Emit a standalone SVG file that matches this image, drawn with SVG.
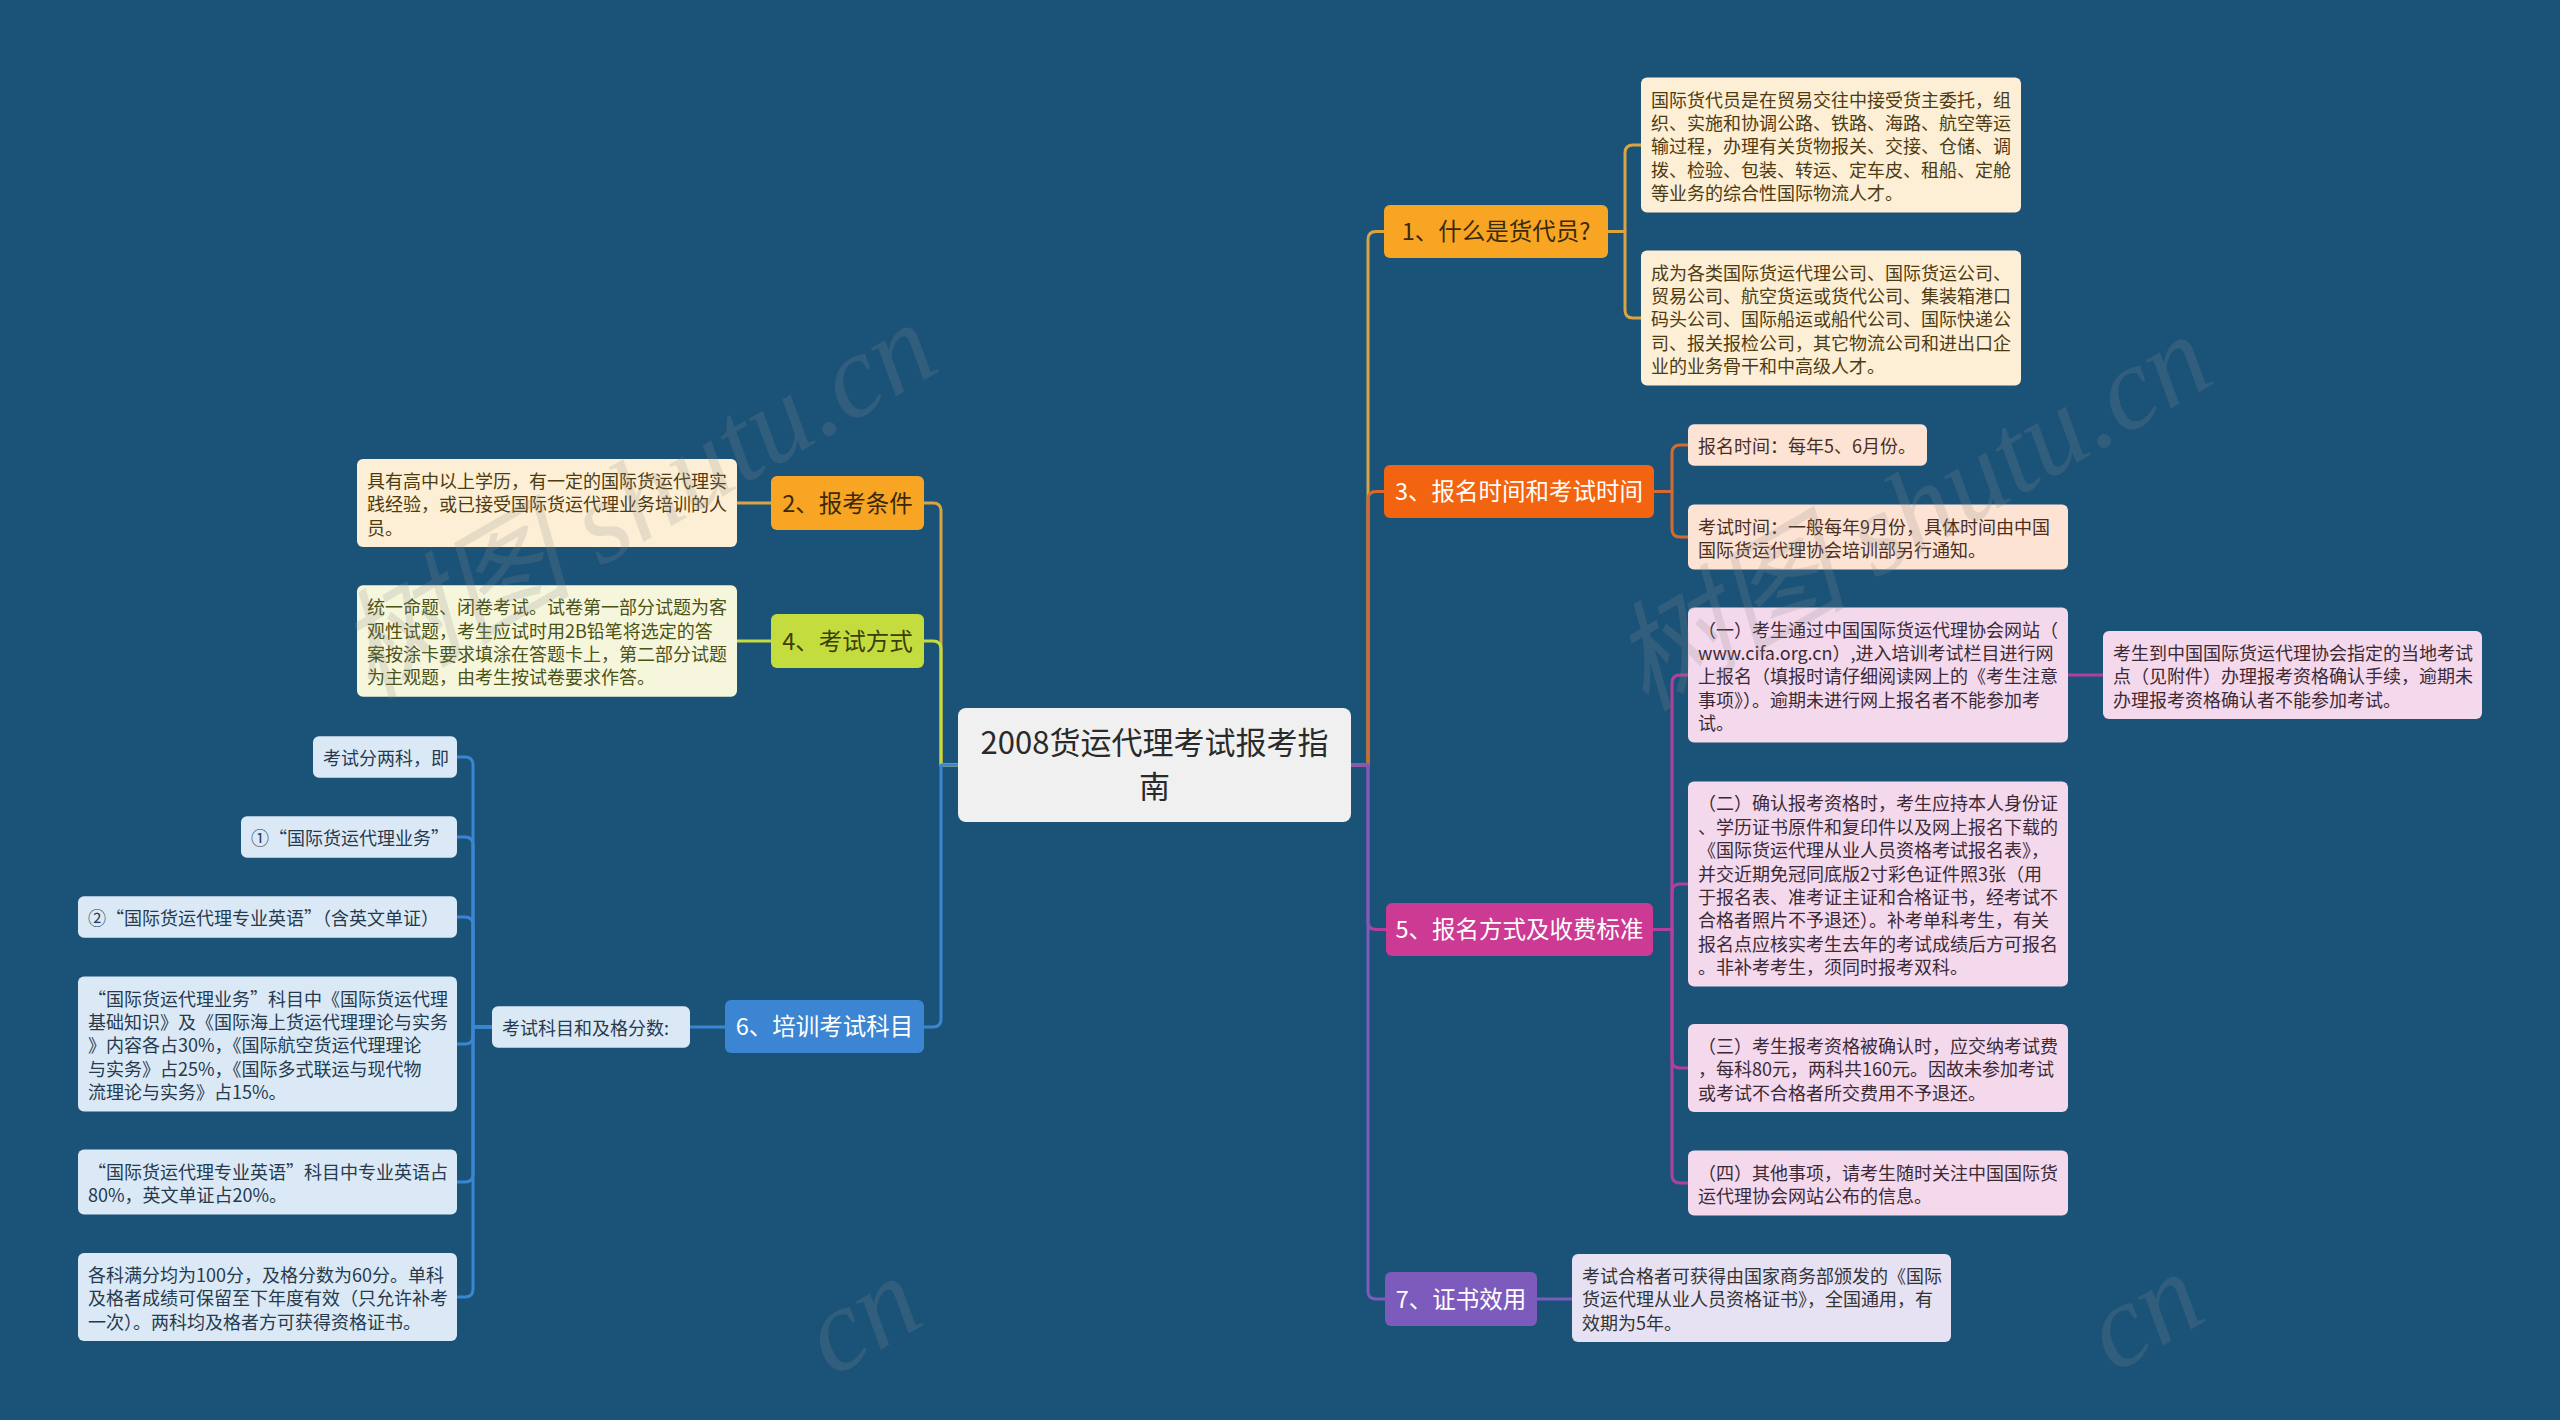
<svg xmlns="http://www.w3.org/2000/svg" width="2560" height="1420" viewBox="0 0 2560 1420">
<style>
text{font-family:"Noto Sans CJK SC","Liberation Sans",sans-serif;}
.leaf{font-size:18px;}
.main{font-size:23.5px;text-anchor:middle;}
.c{fill:none;stroke-width:3;stroke-linecap:round;stroke-linejoin:round;}
.wm{font-family:"Liberation Serif","Noto Sans CJK SC",serif;font-style:italic;font-size:118px;fill:#8a8a8a;fill-opacity:0.2;}
</style>
<rect x="0" y="0" width="2560" height="1420" fill="#1b5378"/>

<g id="connectors">
  <path class="c" stroke="#d8a444" d="M1351,765 H1368 V239.5 Q1368,231.5 1376,231.5 H1384"/>
  <path class="c" stroke="#d56a30" d="M1351,765 H1368 V499.5 Q1368,491.5 1376,491.5 H1384"/>
  <path class="c" stroke="#b2409a" d="M1351,765 H1368 V921.5 Q1368,929.5 1376,929.5 H1386"/>
  <path class="c" stroke="#7d5bbd" d="M1351,765 H1368 V1291 Q1368,1299 1376,1299 H1385"/>
  <path class="c" stroke="#d8a444" d="M1608,231.5 H1625 V153 Q1625,145 1633,145 H1641"/>
  <path class="c" stroke="#d8a444" d="M1608,231.5 H1625 V310 Q1625,318 1633,318 H1641"/>
  <path class="c" stroke="#d56a30" d="M1654,491.5 H1672 V453 Q1672,445 1680,445 H1688"/>
  <path class="c" stroke="#d56a30" d="M1654,491.5 H1672 V529 Q1672,537 1680,537 H1688"/>
  <path class="c" stroke="#b2409a" d="M1653,929.5 H1672 V683 Q1672,675 1680,675 H1688"/>
  <path class="c" stroke="#b2409a" d="M1653,929.5 H1672 V892 Q1672,884 1680,884 H1688"/>
  <path class="c" stroke="#b2409a" d="M1653,929.5 H1672 V1060 Q1672,1068 1680,1068 H1688"/>
  <path class="c" stroke="#b2409a" d="M1653,929.5 H1672 V1175 Q1672,1183 1680,1183 H1688"/>
  <path class="c" stroke="#b2409a" d="M2068,675 H2103"/>
  <path class="c" stroke="#7d5bbd" d="M1537,1299 H1572"/>
  <path class="c" stroke="#d8a444" d="M958,765 H941 V511 Q941,503 933,503 H924"/>
  <path class="c" stroke="#c5dc3e" d="M958,765 H941 V649 Q941,641 933,641 H924"/>
  <path class="c" stroke="#3b85d3" d="M958,765 H941 V1019 Q941,1027 933,1027 H924"/>
  <path class="c" stroke="#d8a444" d="M771,503 H737"/>
  <path class="c" stroke="#c5dc3e" d="M771,641 H737"/>
  <path class="c" stroke="#3b85d3" d="M725,1027 H690"/>
  <path class="c" stroke="#3b85d3" d="M492,1027 H473 V765 Q473,757 465,757 H457"/>
  <path class="c" stroke="#3b85d3" d="M492,1027 H473 V845 Q473,837 465,837 H457"/>
  <path class="c" stroke="#3b85d3" d="M492,1027 H473 V925 Q473,917 465,917 H457"/>
  <path class="c" stroke="#3b85d3" d="M492,1027 H473 V1036 Q473,1044 465,1044 H457"/>
  <path class="c" stroke="#3b85d3" d="M492,1027 H473 V1174 Q473,1182 465,1182 H457"/>
  <path class="c" stroke="#3b85d3" d="M492,1027 H473 V1289 Q473,1297 465,1297 H457"/>
</g>

<g id="center">
  <rect x="958" y="708" width="393" height="114" rx="8" fill="#f0f0f0"/>
  <text x="1154.5" y="754" font-size="31" text-anchor="middle" fill="#2a2a2a">2008货运代理考试报考指</text>
  <text x="1154.5" y="798" font-size="31" text-anchor="middle" fill="#2a2a2a">南</text>
</g>

<g id="n1">
  <rect x="1384" y="205" width="224" height="53" rx="6" fill="#f7a522"/>
  <text class="main" x="1496" y="240" fill="#3a2a0a">1、什么是货代员?</text>
</g>
<g id="n1a">
  <rect x="1641" y="77.5" width="380" height="135" rx="6" fill="#fdefd5"/>
  <text class="leaf" fill="#4d3b12">
    <tspan x="1651" y="106.5">国际货代员是在贸易交往中接受货主委托，组</tspan>
    <tspan x="1651" y="129.9">织、实施和协调公路、铁路、海路、航空等运</tspan>
    <tspan x="1651" y="153.3">输过程，办理有关货物报关、交接、仓储、调</tspan>
    <tspan x="1651" y="176.7">拨、检验、包装、转运、定车皮、租船、定舱</tspan>
    <tspan x="1651" y="200.1">等业务的综合性国际物流人才。</tspan>
  </text>
</g>
<g id="n1b">
  <rect x="1641" y="250.5" width="380" height="135" rx="6" fill="#fdefd5"/>
  <text class="leaf" fill="#4d3b12">
    <tspan x="1651" y="279.5">成为各类国际货运代理公司、国际货运公司、</tspan>
    <tspan x="1651" y="302.9">贸易公司、航空货运或货代公司、集装箱港口</tspan>
    <tspan x="1651" y="326.3">码头公司、国际船运或船代公司、国际快递公</tspan>
    <tspan x="1651" y="349.7">司、报关报检公司，其它物流公司和进出口企</tspan>
    <tspan x="1651" y="373.1">业的业务骨干和中高级人才。</tspan>
  </text>
</g>

<g id="n3">
  <rect x="1384" y="465" width="270" height="53" rx="6" fill="#f26410"/>
  <text class="main" x="1519" y="500" fill="#ffffff">3、报名时间和考试时间</text>
</g>
<g id="n3a">
  <rect x="1688" y="424.3" width="239" height="41.4" rx="6" fill="#fde3d3"/>
  <text class="leaf" x="1698" y="453.3" fill="#4a2e1e">报名时间：每年5、6月份。</text>
</g>
<g id="n3b">
  <rect x="1688" y="504.6" width="380" height="64.8" rx="6" fill="#fde3d3"/>
  <text class="leaf" fill="#4a2e1e">
    <tspan x="1698" y="533.6">考试时间：一般每年9月份，具体时间由中国</tspan>
    <tspan x="1698" y="557">国际货运代理协会培训部另行通知。</tspan>
  </text>
</g>

<g id="n5">
  <rect x="1386" y="903" width="267" height="53" rx="6" fill="#cc3a93"/>
  <text class="main" x="1519.5" y="938" fill="#ffffff">5、报名方式及收费标准</text>
</g>
<g id="n5a">
  <rect x="1688" y="607.5" width="380" height="135" rx="6" fill="#f4d9ec"/>
  <text class="leaf" fill="#3b2a36">
    <tspan x="1698" y="636.5">（一）考生通过中国国际货运代理协会网站（</tspan>
    <tspan x="1698" y="659.9">www.cifa.org.cn）,进入培训考试栏目进行网</tspan>
    <tspan x="1698" y="683.3">上报名（填报时请仔细阅读网上的《考生注意</tspan>
    <tspan x="1698" y="706.7">事项》）。逾期未进行网上报名者不能参加考</tspan>
    <tspan x="1698" y="730.1">试。</tspan>
  </text>
</g>
<g id="n5a1">
  <rect x="2103" y="630.9" width="379" height="88.2" rx="6" fill="#f4d9ec"/>
  <text class="leaf" fill="#3b2a36">
    <tspan x="2113" y="659.9">考生到中国国际货运代理协会指定的当地考试</tspan>
    <tspan x="2113" y="683.3">点（见附件）办理报考资格确认手续，逾期未</tspan>
    <tspan x="2113" y="706.7">办理报考资格确认者不能参加考试。</tspan>
  </text>
</g>
<g id="n5b">
  <rect x="1688" y="781.4" width="380" height="205.2" rx="6" fill="#f4d9ec"/>
  <text class="leaf" fill="#3b2a36">
    <tspan x="1698" y="810.4">（二）确认报考资格时，考生应持本人身份证</tspan>
    <tspan x="1698" y="833.8">、学历证书原件和复印件以及网上报名下载的</tspan>
    <tspan x="1698" y="857.2">《国际货运代理从业人员资格考试报名表》，</tspan>
    <tspan x="1698" y="880.6">并交近期免冠同底版2寸彩色证件照3张（用</tspan>
    <tspan x="1698" y="904">于报名表、准考证主证和合格证书，经考试不</tspan>
    <tspan x="1698" y="927.4">合格者照片不予退还）。补考单科考生，有关</tspan>
    <tspan x="1698" y="950.8">报名点应核实考生去年的考试成绩后方可报名</tspan>
    <tspan x="1698" y="974.2">。非补考考生，须同时报考双科。</tspan>
  </text>
</g>
<g id="n5c">
  <rect x="1688" y="1023.9" width="380" height="88.2" rx="6" fill="#f4d9ec"/>
  <text class="leaf" fill="#3b2a36">
    <tspan x="1698" y="1052.9">（三）考生报考资格被确认时，应交纳考试费</tspan>
    <tspan x="1698" y="1076.3">，每科80元，两科共160元。因故未参加考试</tspan>
    <tspan x="1698" y="1099.7">或考试不合格者所交费用不予退还。</tspan>
  </text>
</g>
<g id="n5d">
  <rect x="1688" y="1150.6" width="380" height="64.8" rx="6" fill="#f4d9ec"/>
  <text class="leaf" fill="#3b2a36">
    <tspan x="1698" y="1179.6">（四）其他事项，请考生随时关注中国国际货</tspan>
    <tspan x="1698" y="1203">运代理协会网站公布的信息。</tspan>
  </text>
</g>

<g id="n7">
  <rect x="1385" y="1272" width="152" height="54" rx="6" fill="#7d5bbd"/>
  <text class="main" x="1461" y="1307.5" fill="#ffffff">7、证书效用</text>
</g>
<g id="n7a">
  <rect x="1572" y="1253.9" width="379" height="88.2" rx="6" fill="#e6e2f3"/>
  <text class="leaf" fill="#333333">
    <tspan x="1582" y="1282.9">考试合格者可获得由国家商务部颁发的《国际</tspan>
    <tspan x="1582" y="1306.3">货运代理从业人员资格证书》，全国通用，有</tspan>
    <tspan x="1582" y="1329.7">效期为5年。</tspan>
  </text>
</g>

<g id="n2">
  <rect x="771" y="476" width="153" height="54" rx="6" fill="#f7a522"/>
  <text class="main" x="847.5" y="511.5" fill="#3a2a0a">2、报考条件</text>
</g>
<g id="n2a">
  <rect x="357" y="458.9" width="380" height="88.2" rx="6" fill="#fdefd5"/>
  <text class="leaf" fill="#4d3b12">
    <tspan x="367" y="487.9">具有高中以上学历，有一定的国际货运代理实</tspan>
    <tspan x="367" y="511.3">践经验，或已接受国际货运代理业务培训的人</tspan>
    <tspan x="367" y="534.7">员。</tspan>
  </text>
</g>

<g id="n4">
  <rect x="771" y="614" width="153" height="54" rx="6" fill="#c5dc3e"/>
  <text class="main" x="847.5" y="649.5" fill="#3a3f0a">4、考试方式</text>
</g>
<g id="n4a">
  <rect x="357" y="585.2" width="380" height="111.6" rx="6" fill="#f6f6dc"/>
  <text class="leaf" fill="#4a5214">
    <tspan x="367" y="614.2">统一命题、闭卷考试。试卷第一部分试题为客</tspan>
    <tspan x="367" y="637.6">观性试题，考生应试时用2B铅笔将选定的答</tspan>
    <tspan x="367" y="661">案按涂卡要求填涂在答题卡上，第二部分试题</tspan>
    <tspan x="367" y="684.4">为主观题，由考生按试卷要求作答。</tspan>
  </text>
</g>

<g id="n6">
  <rect x="725" y="1000" width="199" height="53" rx="6" fill="#3b85d3"/>
  <text class="main" x="824.5" y="1035" fill="#ffffff">6、培训考试科目</text>
</g>
<g id="n6a">
  <rect x="492" y="1006.3" width="198" height="41.4" rx="6" fill="#dbe9f6"/>
  <text class="leaf" x="502" y="1035.3" fill="#263a4d">考试科目和及格分数:</text>
</g>
<g id="n6a1">
  <rect x="313" y="736.3" width="144" height="41.4" rx="6" fill="#dbe9f6"/>
  <text class="leaf" x="323" y="765.3" fill="#263a4d">考试分两科，即</text>
</g>
<g id="n6a2">
  <rect x="241" y="816.3" width="216" height="41.4" rx="6" fill="#dbe9f6"/>
  <text class="leaf" x="251" y="845.3" fill="#263a4d">①“国际货运代理业务”</text>
</g>
<g id="n6a3">
  <rect x="78" y="896.3" width="379" height="41.4" rx="6" fill="#dbe9f6"/>
  <text class="leaf" x="88" y="925.3" fill="#263a4d">②“国际货运代理专业英语”（含英文单证）</text>
</g>
<g id="n6a4">
  <rect x="78" y="976.5" width="379" height="135" rx="6" fill="#dbe9f6"/>
  <text class="leaf" fill="#263a4d">
    <tspan x="88" y="1005.5">“国际货运代理业务”科目中《国际货运代理</tspan>
    <tspan x="88" y="1028.9">基础知识》及《国际海上货运代理理论与实务</tspan>
    <tspan x="88" y="1052.3">》内容各占30%，《国际航空货运代理理论</tspan>
    <tspan x="88" y="1075.7">与实务》占25%，《国际多式联运与现代物</tspan>
    <tspan x="88" y="1099.1">流理论与实务》占15%。</tspan>
  </text>
</g>
<g id="n6a5">
  <rect x="78" y="1149.6" width="379" height="64.8" rx="6" fill="#dbe9f6"/>
  <text class="leaf" fill="#263a4d">
    <tspan x="88" y="1178.6">“国际货运代理专业英语”科目中专业英语占</tspan>
    <tspan x="88" y="1202">80%，英文单证占20%。</tspan>
  </text>
</g>
<g id="n6a6">
  <rect x="78" y="1252.9" width="379" height="88.2" rx="6" fill="#dbe9f6"/>
  <text class="leaf" fill="#263a4d">
    <tspan x="88" y="1281.9">各科满分均为100分，及格分数为60分。单科</tspan>
    <tspan x="88" y="1305.3">及格者成绩可保留至下年度有效（只允许补考</tspan>
    <tspan x="88" y="1328.7">一次）。两科均及格者方可获得资格证书。</tspan>
  </text>
</g>

<g id="watermark">
  <text class="wm" transform="translate(370,700) rotate(-30)">树图 shutu.cn</text>
  <text class="wm" transform="translate(1645,712) rotate(-30)">树图 shutu.cn</text>
  <text class="wm" transform="translate(832,1378) rotate(-30)">cn</text>
  <text class="wm" transform="translate(2114,1374) rotate(-30)">cn</text>
</g>
</svg>
